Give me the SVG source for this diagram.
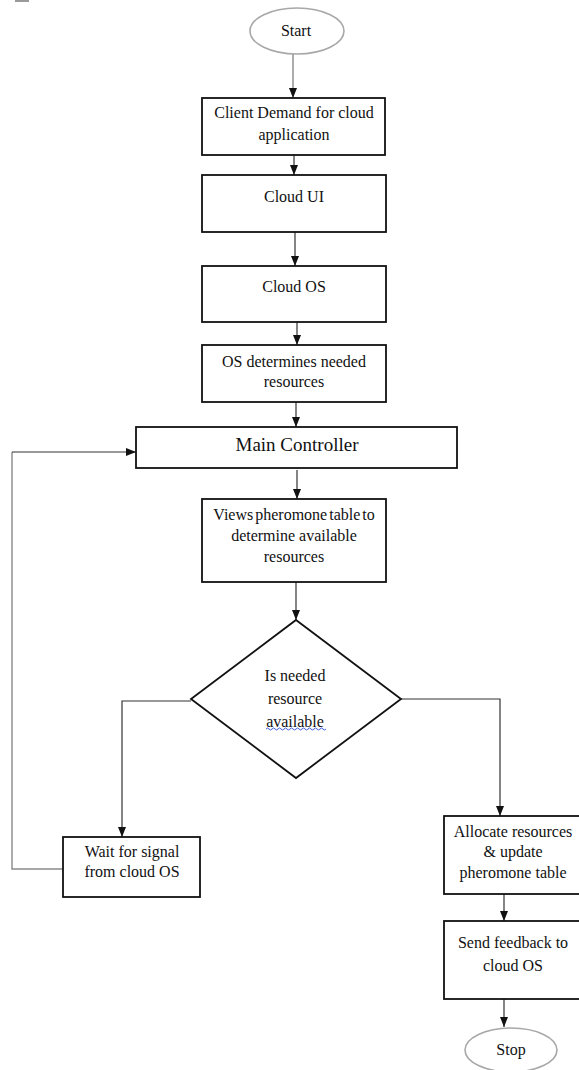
<svg xmlns="http://www.w3.org/2000/svg" width="579" height="1070" viewBox="0 0 579 1070">
<defs>
<style>
.box{fill:#fff;stroke:#111;stroke-width:1.8}
.ell{fill:#fff;stroke:#a8a8a8;stroke-width:1.6}
.t{font-family:"Liberation Serif","Times New Roman",serif;font-size:16px;fill:#111;text-anchor:middle}
.big{font-size:19px}
.c{fill:none;stroke:#333;stroke-width:1.2}
.g{fill:none;stroke:#8a8a8a;stroke-width:1.4}
</style>
<marker id="ah" markerUnits="userSpaceOnUse" markerWidth="10" markerHeight="10" viewBox="0 0 10 10" refX="10" refY="5" orient="auto">
<path d="M0,1 L10,5 L0,9 Z" fill="#111"/>
</marker>
</defs>
<rect x="15" y="0" width="14" height="2" fill="#9a9a9a"/>
<g id="connectors">
<line class="g" x1="293" y1="54" x2="293" y2="98" marker-end="url(#ah)"/>
<line class="c" x1="294" y1="155" x2="294" y2="175" marker-end="url(#ah)"/>
<line class="c" x1="295" y1="232" x2="295" y2="266" marker-end="url(#ah)"/>
<line class="c" x1="297" y1="322" x2="297" y2="345" marker-end="url(#ah)"/>
<line class="c" x1="296" y1="402" x2="296" y2="427" marker-end="url(#ah)"/>
<line class="c" x1="297" y1="470" x2="297" y2="499" marker-end="url(#ah)"/>
<line class="c" x1="296" y1="582" x2="296" y2="620" marker-end="url(#ah)"/>
<polyline class="c" points="191,701 122,701 122,837" marker-end="url(#ah)"/>
<polyline class="c" points="401,699 500,699 500,816" marker-end="url(#ah)"/>
<polyline class="g" points="63,869 12,869 12,452"/>
<line class="c" x1="12" y1="452" x2="136" y2="452" marker-end="url(#ah)"/>
<line class="c" x1="504" y1="894" x2="504" y2="921" marker-end="url(#ah)"/>
<line class="c" x1="504" y1="999" x2="504" y2="1027" marker-end="url(#ah)"/>
</g>
<g id="start">
<ellipse class="ell" cx="297" cy="31" rx="47" ry="23"/>
<text class="t" x="296" y="36">Start</text>
</g>
<g id="client-demand">
<rect class="box" x="202" y="98" width="183" height="57"/>
<text class="t" x="294" y="118">Client Demand for cloud</text>
<text class="t" x="294" y="140">application</text>
</g>
<g id="cloud-ui">
<rect class="box" x="202" y="175" width="184" height="57"/>
<text class="t" x="294" y="202">Cloud UI</text>
</g>
<g id="cloud-os">
<rect class="box" x="202" y="266" width="184" height="56"/>
<text class="t" x="294" y="292">Cloud OS</text>
</g>
<g id="os-determines">
<rect class="box" x="202" y="345" width="184" height="57"/>
<text class="t" x="294" y="367">OS determines needed</text>
<text class="t" x="294" y="387">resources</text>
</g>
<g id="main-controller">
<rect class="box" x="136" y="427" width="321" height="41"/>
<text class="t big" x="297" y="451">Main Controller</text>
</g>
<g id="views-pheromone">
<rect class="box" x="202" y="499" width="184" height="83"/>
<text class="t" x="294" y="520" style="word-spacing:-2px">Views pheromone table to</text>
<text class="t" x="294" y="541">determine available</text>
<text class="t" x="294" y="562">resources</text>
</g>
<g id="decision">
<polygon class="box" points="296,620 401,699 296,778 191,699"/>
<text class="t" x="295" y="681">Is needed</text>
<text class="t" x="295" y="704">resource</text>
<text class="t" x="295" y="727">available</text>
<path d="M266,729 q1.5,-2 3,0 t3,0 t3,0 t3,0 t3,0 t3,0 t3,0 t3,0 t3,0 t3,0 t3,0 t3,0 t3,0 t3,0 t3,0 t3,0 t3,0 t3,0 t3,0 t3,0" fill="none" stroke="#3a5ce0" stroke-width="1"/>
</g>
<g id="wait">
<rect class="box" x="63" y="837" width="137" height="60"/>
<text class="t" x="132" y="857">Wait for signal</text>
<text class="t" x="132" y="877">from cloud OS</text>
</g>
<g id="allocate">
<rect class="box" x="444" y="816" width="140" height="78"/>
<text class="t" x="513" y="837">Allocate resources</text>
<text class="t" x="513" y="857">&amp; update</text>
<text class="t" x="513" y="878">pheromone table</text>
</g>
<g id="send-feedback">
<rect class="box" x="444" y="921" width="140" height="78"/>
<text class="t" x="513" y="948">Send feedback to</text>
<text class="t" x="513" y="971">cloud OS</text>
</g>
<g id="stop">
<ellipse class="ell" cx="511" cy="1050" rx="46" ry="22"/>
<text class="t" x="511" y="1055">Stop</text>
</g>
</svg>
